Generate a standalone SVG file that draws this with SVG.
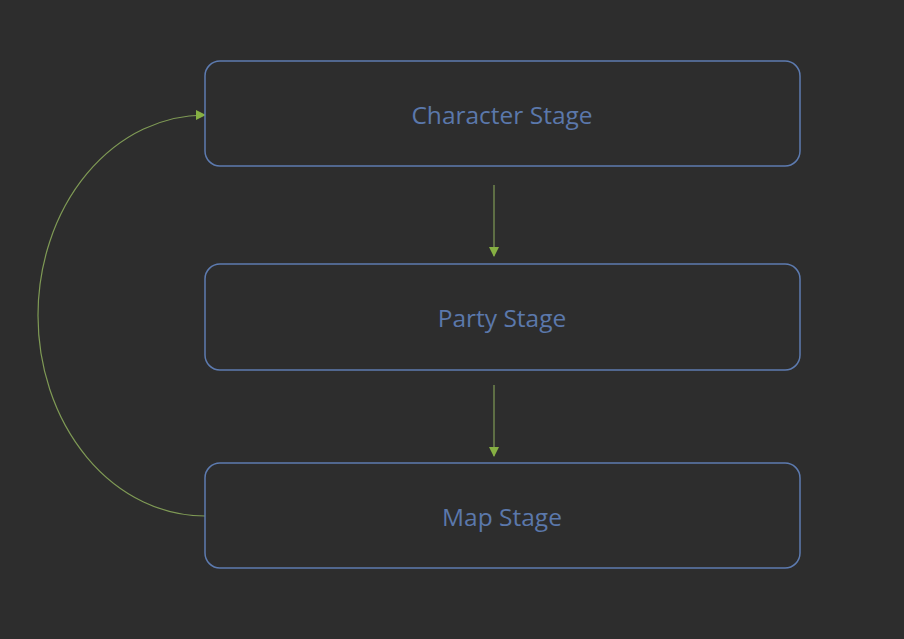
<svg xmlns="http://www.w3.org/2000/svg" width="904" height="639" viewBox="0 0 904 639">
<style>
.node rect{fill:#2d2d2d;stroke:#5d7bb0;stroke-width:1.5}
.node text{font-family:"Open Sans","Liberation Sans",sans-serif;font-size:24.5px;fill:#5b78ab;text-anchor:middle;dominant-baseline:central}
.conn{fill:none;stroke:#7f9a55;stroke-width:1.2}
</style>
<defs>
<marker id="ah" markerWidth="10" markerHeight="10" refX="9" refY="5" orient="auto" markerUnits="userSpaceOnUse">
<path d="M0,0 L10,5 L0,10 Z" fill="#86b043"/>
</marker>
</defs>
<rect width="904" height="639" fill="#2d2d2d"/>
<g id="connectors">
<path class="conn" d="M494,185 L494,256" marker-end="url(#ah)"/>
<path class="conn" d="M494,385 L494,456" marker-end="url(#ah)"/>
<path class="conn" d="M205,516 A167,200.5 0 0 1 205,115" marker-end="url(#ah)"/>
</g>
<g id="character-stage" class="node">
<rect x="205" y="61" width="595" height="105" rx="15"/>
<text x="502" y="114">Character Stage</text>
</g>
<g id="party-stage" class="node">
<rect x="205" y="264" width="595" height="106" rx="15"/>
<text x="502" y="317">Party Stage</text>
</g>
<g id="map-stage" class="node">
<rect x="205" y="463" width="595" height="105" rx="15"/>
<text x="502" y="516">Map Stage</text>
</g>
</svg>
